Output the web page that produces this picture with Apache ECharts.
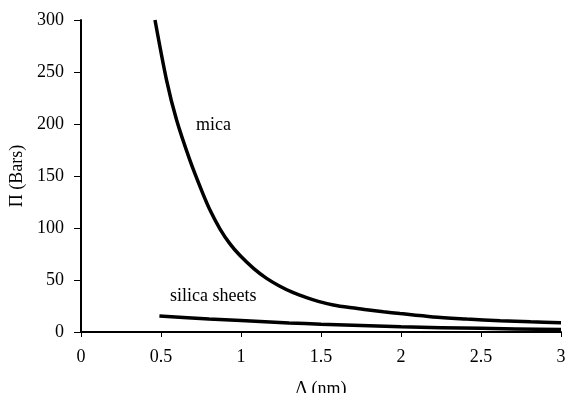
<!DOCTYPE html>
<html>
<head>
<meta charset="utf-8">
<script src="https://cdn.jsdelivr.net/npm/echarts@6/dist/echarts.min.js"></script>
<style>
  html, body { margin: 0; padding: 0; background: #fff; }
  #main { width: 572px; height: 393px; }
</style>
</head>
<body>
<div id="main"></div>
<script>
// valores
var micaX = [0.4625, 0.535, 0.597, 0.681, 0.754, 0.81, 0.869, 0.93, 0.994, 1.08, 1.16, 1.24, 1.327, 1.41, 1.483, 1.577, 1.68, 1.785, 1.89, 1.994, 2.2, 2.41, 2.62, 2.81, 3.0];
var micaY = [300, 242, 204, 165, 136, 116, 99, 85, 73.5, 61, 51.6, 44.3, 37.8, 33, 29.5, 26, 23.5, 21.5, 19.5, 17.7, 14.5, 12.5, 10.8, 9.8, 9];
var silicaX = [0.49, 0.8, 1.0, 1.3, 1.5, 2.0, 2.5, 3.0];
var silicaY = [15.5, 12.5, 11, 8.7, 7.5, 5, 3.5, 2.3];

function pairs(xs, ys) {
  return xs.map(function (x, i) { return [x, ys[i]]; });
}

var chartDom = document.getElementById('main');
var myChart = echarts.init(chartDom);
var font = 'Liberation Serif';

var option = {
  animation: false,
  grid: { left: 81, right: 11, top: 20, bottom: 61, containLabel: false, outerBoundsMode: 'none' },
  xAxis: {
    type: 'value',
    min: 0, max: 3, interval: 0.5,
    name: 'Δ (nm)',
    nameLocation: 'middle',
    nameGap: 48,
    nameTextStyle: { fontFamily: font, fontSize: 18, color: '#000' },
    axisLine: { show: true, lineStyle: { color: '#000', width: 2 } },
    axisTick: { show: true, length: 5, lineStyle: { color: '#000' } },
    axisLabel: { margin: 16, fontFamily: font, fontSize: 18, color: '#000' },
    splitLine: { show: false }
  },
  yAxis: {
    type: 'value',
    min: 0, max: 300, interval: 50,
    name: 'Π (Bars)',
    nameLocation: 'middle',
    nameGap: 55,
    nameTextStyle: { fontFamily: font, fontSize: 18, color: '#000' },
    axisLine: { show: true, lineStyle: { color: '#000', width: 2 } },
    axisTick: { show: true, length: 7, lineStyle: { color: '#000' } },
    axisLabel: { margin: 17, fontFamily: font, fontSize: 18, color: '#000' },
    splitLine: { show: false }
  },
  series: [
    {
      name: 'mica',
      type: 'line',
      smooth: 0.3,
      symbol: 'none',
      lineStyle: { color: '#000', width: 3.5 },
      data: pairs(micaX, micaY)
    },
    {
      name: 'silica sheets',
      type: 'line',
      smooth: 0.3,
      symbol: 'none',
      lineStyle: { color: '#000', width: 3.5 },
      data: pairs(silicaX, silicaY)
    }
  ],
  graphic: [
    { type: 'text', left: 196, top: 116, style: { text: 'mica', fontFamily: font, fontSize: 18, fill: '#000' } },
    { type: 'text', left: 170, top: 287, style: { text: 'silica sheets', fontFamily: font, fontSize: 18, fill: '#000' } }
  ]
};

option && myChart.setOption(option);
</script>
</body>
</html>
